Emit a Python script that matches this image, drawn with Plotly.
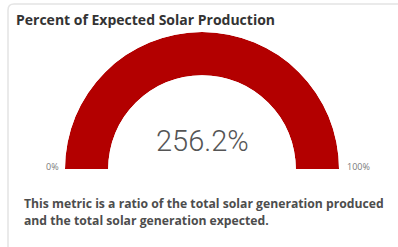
import plotly.graph_objects as go

# ---- data ----
title_text = "Percent of Expected Solar Production"
value_pct = [256.2]
gauge_range = [0, 100]
tick_labels = ["0%", "100%"]
description_lines = [
    "This metric is a ratio of the total solar generation produced",
    "and the total solar generation expected.",
]

W, H = 398, 247
RED = "#B30000"

def px(x):
    return x / W

def py(y):
    return 1 - y / H

gmin, gmax = gauge_range
filled = max(gmin, min(value_pct[0], gmax))
span_deg = 180.0 * (filled - gmin) / (gmax - gmin)

fig = go.Figure()

# empty track
fig.add_trace(go.Barpolar(
    r=[1], theta=[90], width=[180], base=0,
    marker=dict(color="#E6E6E6", line=dict(width=0)),
    hoverinfo="skip", showlegend=False,
))
# filled part
fig.add_trace(go.Barpolar(
    r=[1], theta=[span_deg / 2], width=[span_deg], base=0,
    marker=dict(color=RED, line=dict(width=0)),
    hoverinfo="skip", showlegend=False,
))

fig.update_layout(
    width=W, height=H,
    margin=dict(l=0, r=0, t=0, b=0),
    paper_bgcolor="white",
    plot_bgcolor="white",
    polar=dict(
        domain=dict(x=[px(65), px(339)], y=[py(169), py(32)]),
        sector=[0, 180],
        hole=0.685,
        bgcolor="rgba(0,0,0,0)",
        radialaxis=dict(visible=False, range=[0, 1]),
        angularaxis=dict(visible=False, rotation=180, direction="clockwise"),
        barmode="overlay",
    ),
    showlegend=False,
)

# card border
fig.add_shape(type="path",
              path="M %f %f L %f %f Q %f %f %f %f L %f %f" % (
                  px(8), -0.05, px(8), py(10), px(8), py(4), px(14), py(4), 1.05, py(4)),
              xref="paper", yref="paper",
              line=dict(color="#E4E4E4", width=1.5))

annotations = [
    dict(text="<b>" + title_text + "</b>", x=px(14), y=py(20), xanchor="left", yanchor="middle",
         font=dict(family="Open Sans", size=14, color="#333333")),
    dict(text="%.1f%%" % value_pct[0], x=px(202), y=py(141), xanchor="center", yanchor="middle",
         font=dict(family="Roboto", size=29, color="#555555", weight=300)),
    dict(text=tick_labels[0], x=px(52), y=py(166), xanchor="center", yanchor="middle",
         font=dict(family="Open Sans", size=9, color="#7A7A7A")),
    dict(text=tick_labels[1], x=px(358), y=py(166), xanchor="center", yanchor="middle",
         font=dict(family="Open Sans", size=9, color="#7A7A7A")),
]
for i, line in enumerate(description_lines):
    annotations.append(dict(text="<b>" + line + "</b>", x=px(22), y=py(203 + 17 * i),
                            xanchor="left", yanchor="middle",
                            font=dict(family="Open Sans", size=12.2, color="#4D4D4D")))
for a in annotations:
    a.update(xref="paper", yref="paper", showarrow=False)
fig.update_layout(annotations=annotations)

fig.write_html("out.html", config={"displayModeBar": False},
               post_script="document.body.style.margin='0';")
